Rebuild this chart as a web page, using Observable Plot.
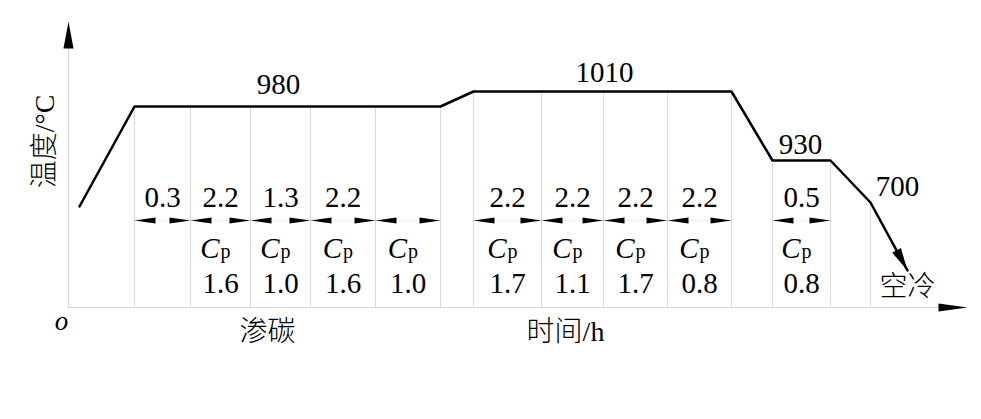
<!DOCTYPE html>
<html><head><meta charset="utf-8">
<script src="https://cdn.jsdelivr.net/npm/d3@7"></script>
<script src="https://cdn.jsdelivr.net/npm/@observablehq/plot@0.6"></script>
<style>body{margin:0;background:#fff}</style>
</head><body><div id="chart"></div>
<script>
// Schematic process diagram: time (arbitrary units) vs temperature level (arbitrary units)
const profileT     = [11, 66, 372, 405, 663, 704, 762, 802, 839];
const profileLevel = [101, 201, 201, 216, 216, 147, 147, 105, 37];

const stepT     = [66, 122, 182, 242, 307, 372, 405, 473, 535, 599, 663, 704, 762, 802];
const stepLevel = [201, 201, 201, 201, 201, 201, 216, 216, 216, 216, 216, 147, 147, 105];

const segStart = [66, 122, 182, 242, 307, 405, 473, 535, 599, 704];
const segEnd   = [122, 182, 242, 307, 372, 473, 535, 599, 663, 762];
const segHours = ["0.3", "2.2", "1.3", "2.2", "", "2.2", "2.2", "2.2", "2.2", "0.5"];
const segCp    = ["", "1.6", "1.0", "1.6", "1.0", "1.7", "1.1", "1.7", "0.8", "0.8"];

const tempLabels     = ["980", "1010", "930", "700"];
const tempLabelT     = [210, 536, 732, 829];
const tempLabelLevel = [214, 226, 154, 112];

const dimLevel = 87, hourLevel = 101, cpLevel = 50, cpValueLevel = 15;
const coolLabel = "空冷", coolLabelT = 839, coolLabelLevel = 20;
const stageLabel = "渗碳", stageLabelT = 199;
const xTitle = "时间/h", xTitleT = 497;
const yTitle = "温度/°C";
const originLabel = "o";

const profile = profileT.map((t, i) => ({t, level: profileLevel[i]}));
const steps = stepT.map((t, i) => ({t, level: stepLevel[i]}));
const segs = segStart.map((s, i) => ({start: s, end: segEnd[i], mid: (s + segEnd[i]) / 2, hours: segHours[i], cp: segCp[i]}));
const cpSegs = segs.filter(d => d.cp);
const hourSegs = segs.filter(d => d.hours);
const temps = tempLabels.map((text, i) => ({text, t: tempLabelT[i], level: tempLabelLevel[i]}));

function head(angleDeg, len, halfW) {
  const a = angleDeg * Math.PI / 180, c = Math.cos(a), s = Math.sin(a);
  return {draw(ctx) {
    const bx = -len * c, by = -len * s;
    ctx.moveTo(0, 0);
    ctx.lineTo(bx - halfW * s, by + halfW * c);
    ctx.lineTo(bx + halfW * s, by - halfW * c);
    ctx.closePath();
  }};
}
const last = profile[profile.length - 1], prev = profile[profile.length - 2];
const coolAngle = Math.atan2(-(last.level - prev.level), last.t - prev.t) * 180 / Math.PI;

const gray = "#d9d9d9";
const plot = Plot.plot({
  width: 981, height: 419,
  marginLeft: 68, marginRight: 13, marginTop: 21, marginBottom: 112,
  x: {domain: [0, 900], axis: null},
  y: {domain: [0, 286], axis: null},
  style: {fontFamily: "'Liberation Serif','Noto Sans CJK SC',serif", fontSize: "28px", background: "white", overflow: "visible", color: "black"},
  marks: [
    Plot.ruleX(steps, {x: "t", y1: 0, y2: "level", stroke: gray, strokeWidth: 1}),
    Plot.ruleY([0], {x1: 0, x2: 895, stroke: gray, strokeWidth: 1.2}),
    Plot.ruleX([0], {y1: 0, y2: 282, stroke: gray, strokeWidth: 1.2}),
    Plot.dot([{t: 0, level: 286}], {x: "t", y: "level", symbol: head(-90, 27, 5), fill: "black", stroke: "none"}),
    Plot.dot([{t: 899, level: 0}], {x: "t", y: "level", symbol: head(0, 29, 4), fill: "black", stroke: "none"}),
    Plot.link(segs, {x1: "start", x2: "end", y1: dimLevel, y2: dimLevel, stroke: "#c8c8c8", strokeWidth: 1, strokeDasharray: "1,3"}),
    Plot.dot(segs, {x: "start", y: dimLevel, symbol: head(180, 21, 3), fill: "black", stroke: "none"}),
    Plot.dot(segs, {x: "end", y: dimLevel, symbol: head(0, 21, 3), fill: "black", stroke: "none"}),
    Plot.line(profile, {x: "t", y: "level", stroke: "black", strokeWidth: 2.5, strokeLinejoin: "miter"}),
    Plot.dot([last], {x: "t", y: "level", symbol: head(coolAngle, 23, 5), fill: "black", stroke: "none"}),
    Plot.text(hourSegs, {x: "mid", y: hourLevel, text: "hours", lineAnchor: "bottom", fontSize: 29, ariaLabel: "nums"}),
    Plot.text(cpSegs, {x: "mid", y: cpLevel, text: () => "C", fontStyle: "italic", textAnchor: "end", dx: -1, lineAnchor: "bottom", fontSize: 29}),
    Plot.text(cpSegs, {x: "mid", y: cpLevel, text: () => "p", textAnchor: "start", dx: 0, lineAnchor: "bottom", fontSize: 20}),
    Plot.text(cpSegs, {x: "mid", y: cpValueLevel, text: "cp", lineAnchor: "bottom", fontSize: 29, ariaLabel: "nums"}),
    Plot.text(temps, {x: "t", y: "level", text: "text", lineAnchor: "bottom", fontSize: 29, ariaLabel: "nums"}),
    Plot.text([coolLabel], {x: coolLabelT, y: coolLabelLevel, text: d => d, fontSize: 28, fontWeight: 300}),
    Plot.text([stageLabel], {x: stageLabelT, frameAnchor: "bottom", dy: 25, text: d => d, fontSize: 28, fontWeight: 300, textAnchor: "middle", lineAnchor: "middle"}),
    Plot.text([xTitle], {x: xTitleT, frameAnchor: "bottom", dy: 25, text: d => d, fontSize: 28, fontWeight: 300, textAnchor: "middle", lineAnchor: "middle"}),
    Plot.text([yTitle], {frameAnchor: "left", dx: -23, dy: -23, rotate: -90, text: d => d, fontSize: 28, fontWeight: 300, textAnchor: "middle", lineAnchor: "middle"}),
    Plot.text([originLabel], {frameAnchor: "bottom-left", dx: -7, dy: 14, text: d => d, fontStyle: "italic", fontSize: 27, textAnchor: "middle", lineAnchor: "middle"})
  ]
});
d3.select(plot).selectAll('g[aria-label="nums"] text').attr("letter-spacing", "1.5px");
document.getElementById("chart").appendChild(plot);
</script>
</body></html>
